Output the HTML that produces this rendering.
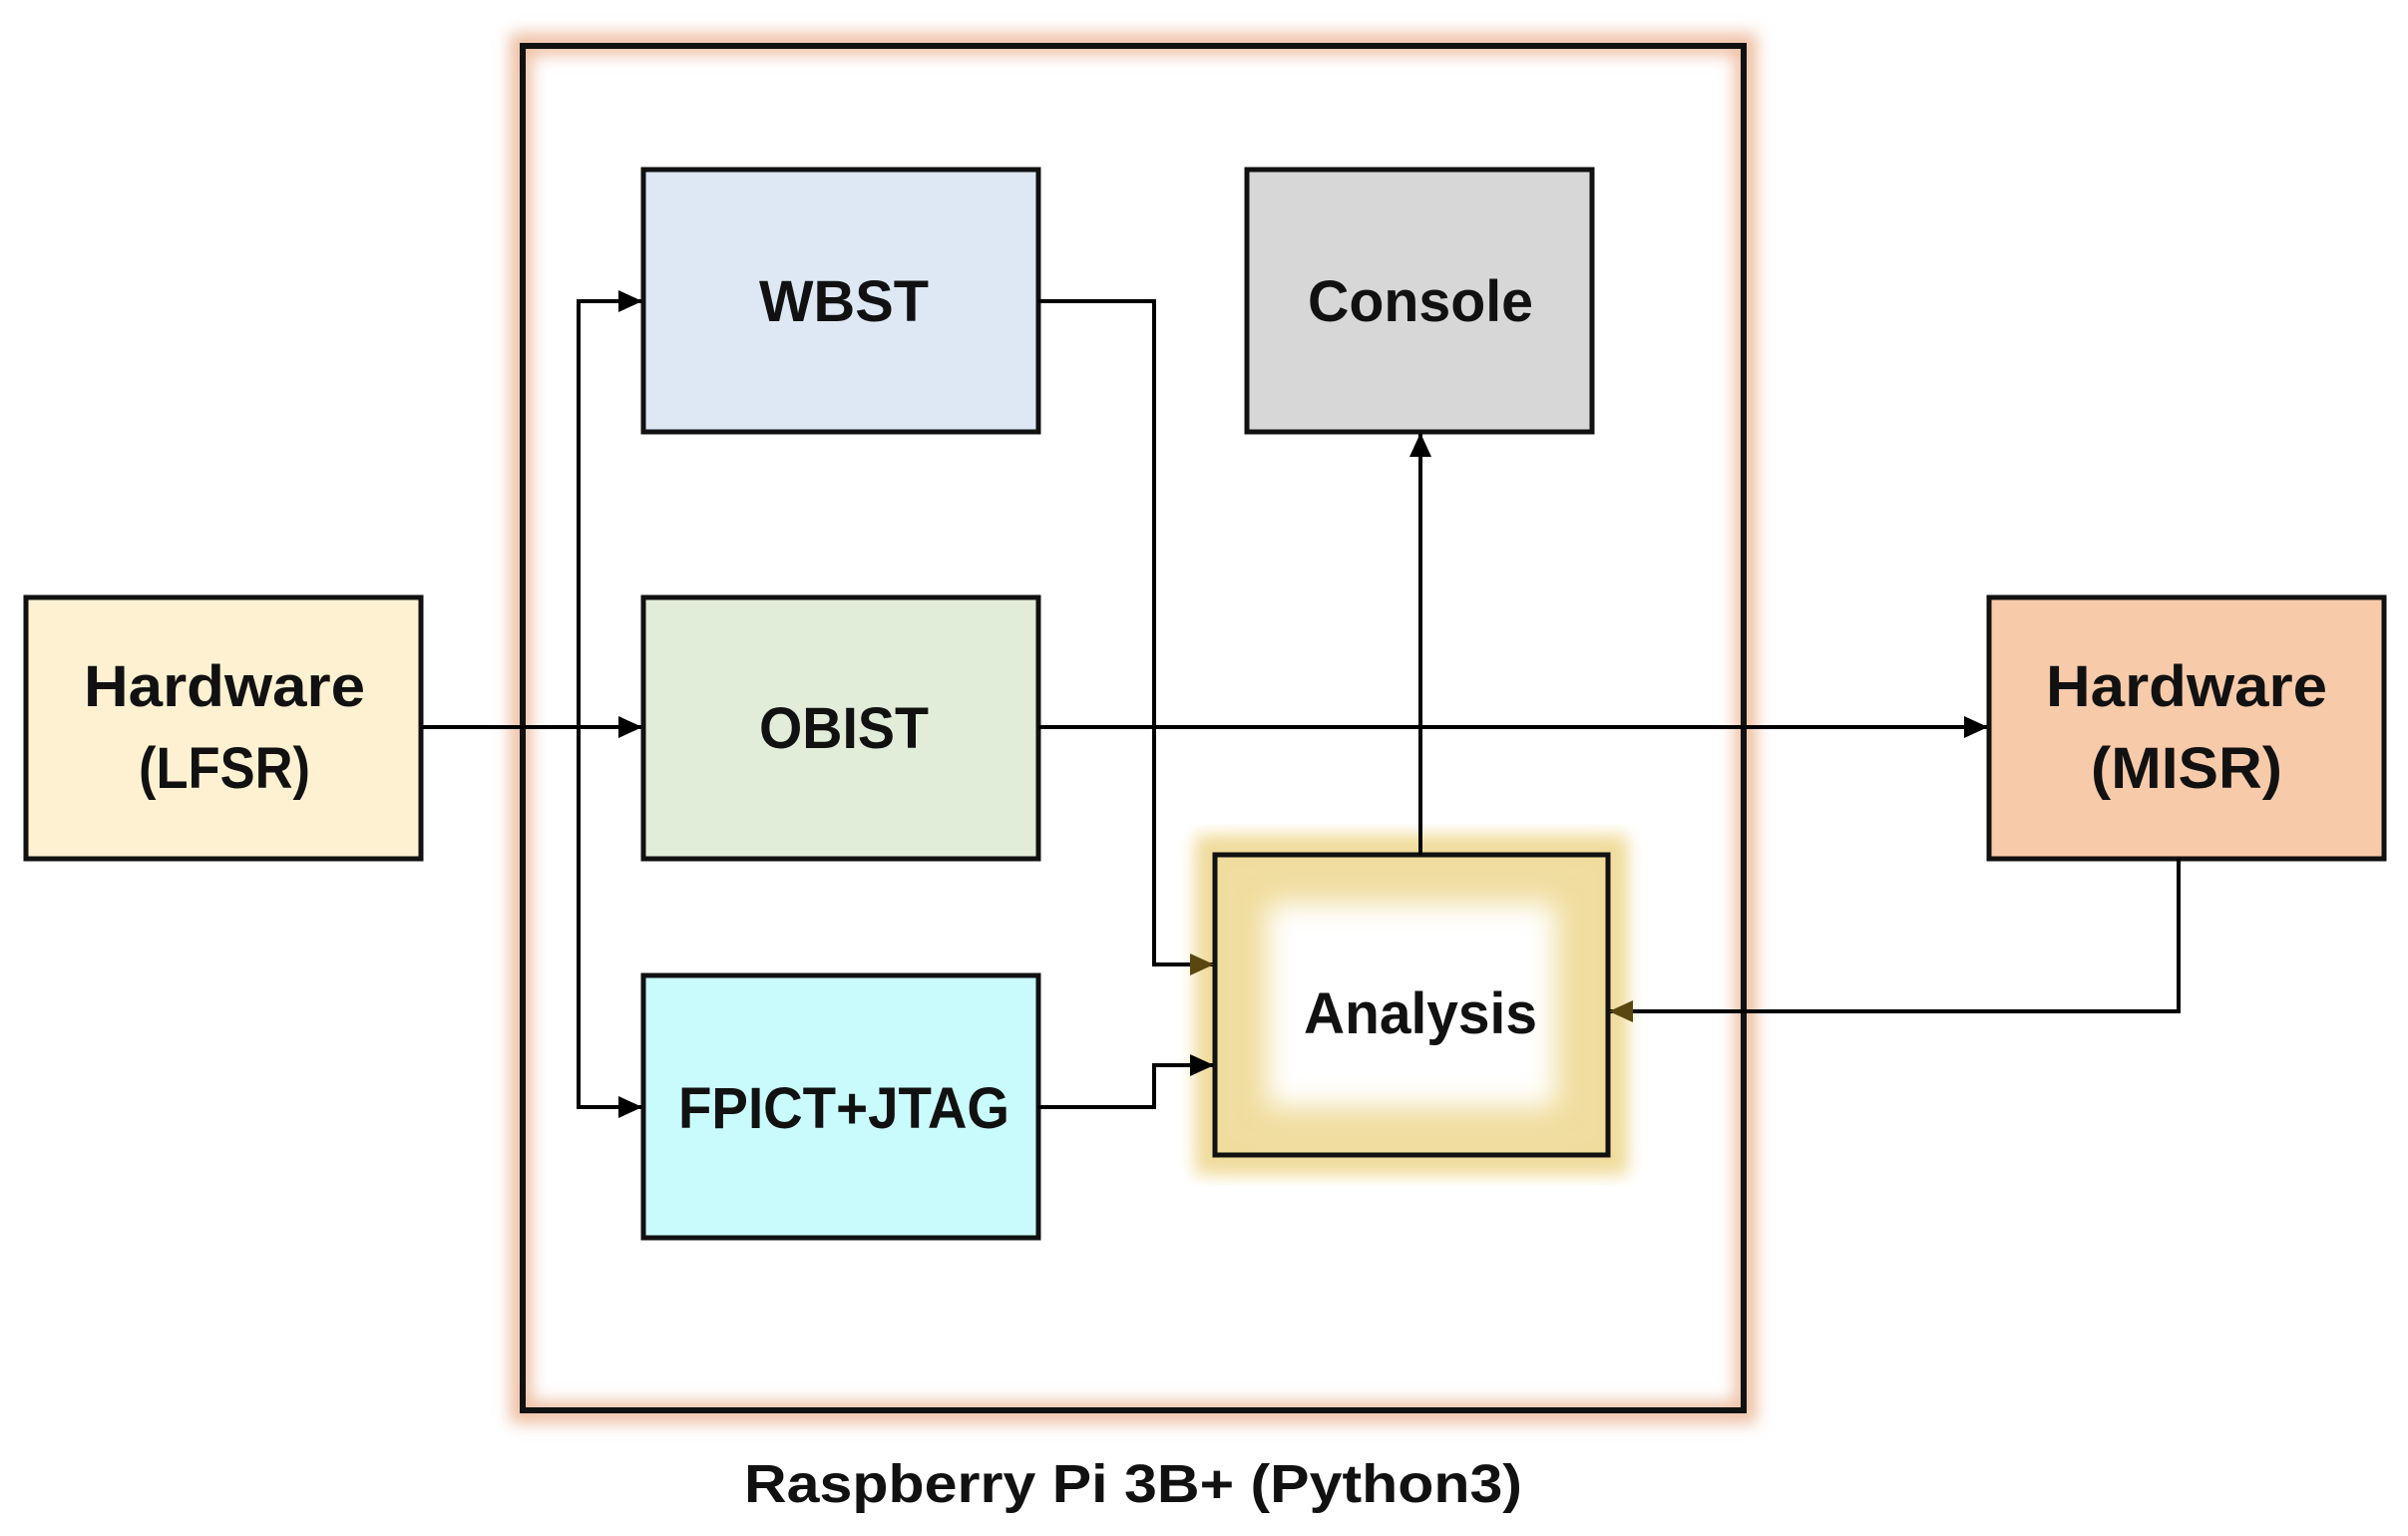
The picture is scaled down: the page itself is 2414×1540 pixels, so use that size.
<!DOCTYPE html>
<html><head><meta charset="utf-8"><style>
html,body{margin:0;padding:0;background:#fff;}
svg{display:block;}
text{font-family:"Liberation Sans",sans-serif;font-weight:bold;fill:#111;}
</style></head><body>
<svg width="2414" height="1540" viewBox="0 0 2414 1540" xmlns="http://www.w3.org/2000/svg">
<defs>
<filter id="blur8" x="-10%" y="-10%" width="120%" height="120%"><feGaussianBlur stdDeviation="8"/></filter>
<filter id="blur14" x="-20%" y="-20%" width="140%" height="140%"><feGaussianBlur stdDeviation="14"/></filter>
<marker id="ar" markerWidth="24" markerHeight="22" refX="23" refY="11" orient="auto" markerUnits="userSpaceOnUse" viewBox="0 0 24 22"><path d="M0,0 L24,11 L0,22 z" fill="#000"/></marker>
<marker id="arb" markerWidth="24" markerHeight="22" refX="23" refY="11" orient="auto" markerUnits="userSpaceOnUse" viewBox="0 0 24 22"><path d="M0,0 L24,11 L0,22 z" fill="#5a4710"/></marker>
</defs>
<rect x="522" y="44" width="1228" height="1372" fill="none" stroke="#eebfa3" stroke-width="22" filter="url(#blur8)"/>
<rect x="524" y="46" width="1224" height="1368" fill="none" stroke="#111" stroke-width="6"/>

<g stroke="#111" stroke-width="5">
<rect x="645" y="170" width="396" height="263" fill="#dde8f4"/>
<rect x="1250" y="170" width="346" height="263" fill="#d7d7d7"/>
<rect x="645" y="599" width="396" height="262" fill="#e2edd9"/>
<rect x="645" y="978" width="396" height="263" fill="#c9fbfd"/>
<rect x="26" y="599" width="396" height="262" fill="#fef1d1"/>
<rect x="1994" y="599" width="396" height="262" fill="#f7caa9"/>
</g>
<rect x="1218" y="857" width="394" height="301" fill="#f0dc9c" filter="url(#blur14)"/>
<rect x="1218" y="857" width="394" height="301" fill="none" stroke="#f0dc9c" stroke-width="40" filter="url(#blur8)"/>
<rect x="1270" y="905" width="290" height="205" fill="#fff" filter="url(#blur14)"/>
<rect x="1218" y="857" width="394" height="301" fill="none" stroke="#111" stroke-width="5"/>

<g stroke="#000" stroke-width="4" fill="none">
<line x1="422" y1="729" x2="643" y2="729" marker-end="url(#ar)"/>
<polyline points="643,302 580,302 580,1110 643,1110" marker-end="url(#ar)"/>
<line x1="600" y1="302" x2="643" y2="302" marker-end="url(#ar)"/>
<polyline points="1041,729 1992,729" marker-end="url(#ar)"/>
<polyline points="1041,302 1157,302 1157,967 1216,967" marker-end="url(#arb)"/>
<polyline points="1041,1110 1157,1110 1157,1068 1216,1068" marker-end="url(#ar)"/>
<line x1="1424" y1="857" x2="1424" y2="435" marker-end="url(#ar)"/>
<polyline points="2184,861 2184,1014 1614,1014" marker-end="url(#arb)"/>
</g>

<g text-anchor="middle" font-size="58">
<text x="846" y="322" textLength="170" lengthAdjust="spacingAndGlyphs">WBST</text>
<text x="1424" y="322" textLength="226" lengthAdjust="spacingAndGlyphs">Console</text>
<text x="846" y="750" textLength="170" lengthAdjust="spacingAndGlyphs">OBIST</text>
<text x="846" y="1131" textLength="332" lengthAdjust="spacingAndGlyphs">FPICT+JTAG</text>
<text x="1424" y="1036" textLength="234" lengthAdjust="spacingAndGlyphs">Analysis</text>
<text x="225" y="708" textLength="282" lengthAdjust="spacingAndGlyphs">Hardware</text>
<text x="225" y="790" textLength="172" lengthAdjust="spacingAndGlyphs">(LFSR)</text>
<text x="2192" y="708" textLength="282" lengthAdjust="spacingAndGlyphs">Hardware</text>
<text x="2192" y="790" textLength="192" lengthAdjust="spacingAndGlyphs">(MISR)</text>
<text x="1136" y="1506" font-size="54" textLength="780" lengthAdjust="spacingAndGlyphs">Raspberry Pi 3B+ (Python3)</text>
</g>
</svg>
</body></html>
